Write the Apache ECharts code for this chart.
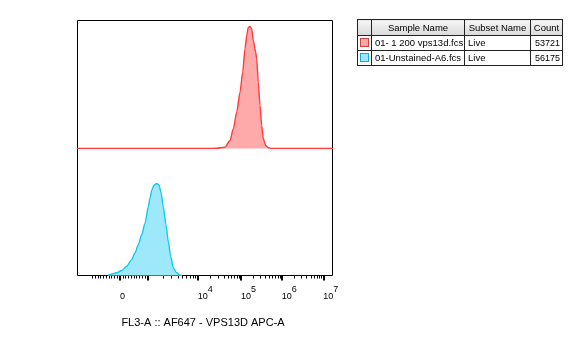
<!DOCTYPE html>
<html>
<head>
<meta charset="utf-8">
<script src="https://cdn.jsdelivr.net/npm/echarts@6/dist/echarts.min.js"></script>
<style>
  html, body { margin: 0; padding: 0; background: #fff; }
  #chart { position: absolute; left: 0; top: 0; width: 585px; height: 348px; }
  #legendTable {
    position: absolute; left: 357px; top: 19px; width: 205px;
    border-collapse: collapse; table-layout: fixed;
    font-family: "Liberation Sans", Arial, sans-serif; font-size: 9.5px; color: #000;
  }
  #legendTable td, #legendTable th {
    border: 1px solid #222; padding: 0 0 0 3px; white-space: nowrap; overflow: hidden; text-overflow: clip;
    font-weight: normal; height: 14px; line-height: 14px; box-sizing: border-box;
  }
  #legendTable th { background: linear-gradient(#f6f6f6, #d9d9d9); text-align: center; padding: 0; height: 16px; }
  #legendTable td { text-align: left; height: 15px; }
  #legendTable td.num { font-size: 9px; padding-left: 4px; }
  .sw { display: inline-block; width: 7px; height: 7px; vertical-align: middle; margin-top: -1px; }
</style>
</head>
<body>
<div id="chart"></div>
<table id="legendTable"></table>
<script>
// Histogram data in display channels (0-256) and event counts per channel bin
const redChannel = [0, 130, 139.7, 148, 153, 156.3, 159.7, 163, 165.7, 168, 169.7, 171.3, 173, 174.7, 176.3, 178.7, 179.7, 181.3, 183, 184.7, 186.3, 188.7, 191.3, 195, 256];
const redCount   = [0, 0, 3, 13, 80, 197, 363, 563, 763, 997, 1130, 1213, 1220, 1197, 1080, 963, 897, 663, 430, 230, 97, 30, 7, 0, 0];

const blueChannel = [31, 33, 39.7, 44.7, 49.7, 54.7, 58, 61.3, 64.7, 68, 71.3, 73, 74.7, 77, 79.7, 82, 84, 86.3, 89, 91.3, 93.7, 96.3, 99.7, 103, 105];
const blueCount   = [0, 10, 27, 50, 93, 160, 227, 310, 410, 527, 693, 777, 860, 910, 927, 910, 843, 693, 510, 343, 193, 77, 27, 3, 0];

// Axis tick values in fluorescence units
const majorTickValues = [0, 1e3, 1e4, 1e5, 1e6, 1e7];
const minorTickValues = [
  -1000, -900, -800, -700, -600, -500, -400, -300, -200, -100,
  100, 200, 300, 400, 500, 600, 700, 800, 900,
  2e3, 3e3, 4e3, 5e3, 6e3, 7e3, 8e3, 9e3,
  2e4, 3e4, 4e4, 5e4, 6e4, 7e4, 8e4, 9e4,
  2e5, 3e5, 4e5, 5e5, 6e5, 7e5, 8e5, 9e5,
  2e6, 3e6, 4e6, 5e6, 6e6, 7e6, 8e6, 9e6
];
const labelValues = [0, 1e4, 1e5, 1e6, 1e7];

// Legend table
const sampleNames = ['01- 1 200 vps13d.fcs', '01-Unstained-A6.fcs'];
const subsetNames = ['Live', 'Live'];
const eventCounts = [53721, 56175];

const redLine = '#ff3b3b', redFill = '#ffaaaa';
const blueLine = '#14c8f2', blueFill = '#9ee8fb';

// Biexponential display scale: linear around zero, log decades above 10^3
const zeroChannel = 43;
const linearSlope = 27.7 / 1000;
const decadeAnchors = [[1e3, 70.7], [1e4, 120.7], [1e5, 164], [1e6, 204.7], [1e7, 246.3]];
function toChannel(v) {
  if (Math.abs(v) <= 1000) return zeroChannel + linearSlope * v;
  if (v < 0) return 2 * zeroChannel - toChannel(-v);
  const lv = Math.log10(v);
  for (let i = 0; i < decadeAnchors.length - 1; i++) {
    const a = decadeAnchors[i], b = decadeAnchors[i + 1];
    if (v <= b[0]) {
      const t = (lv - Math.log10(a[0])) / (Math.log10(b[0]) - Math.log10(a[0]));
      return a[1] + t * (b[1] - a[1]);
    }
  }
  return decadeAnchors[decadeAnchors.length - 1][1];
}

const labelChannels = labelValues.map(toChannel);
function labelFor(ch) {
  let best = 0;
  labelChannels.forEach((c, i) => { if (Math.abs(c - ch) < Math.abs(labelChannels[best] - ch)) best = i; });
  const v = labelValues[best];
  if (v === 0) return '{b|0}';
  return '{b|10}{s|' + Math.round(Math.log10(v)) + '}';
}

const font = '"Liberation Sans", Arial, sans-serif';
const chart = echarts.init(document.getElementById('chart'), null, { renderer: 'canvas' });

const hiddenAxis = { show: false };
chart.setOption({
  animation: false,
  backgroundColor: '#fff',
  textStyle: { fontFamily: font },
  grid: [
    { left: 77, top: 20.5, width: 256, height: 128 },
    { left: 77, top: 148.5, width: 256, height: 127 },
    { left: 77.5, top: 20.5, width: 255, height: 255, show: true, borderColor: '#000', borderWidth: 1, backgroundColor: 'transparent' }
  ],
  xAxis: [
    Object.assign({ type: 'value', gridIndex: 0, min: 0, max: 256 }, hiddenAxis),
    {
      type: 'value', gridIndex: 1, min: 0, max: 256, position: 'bottom',
      name: 'FL3-A :: AF647 - VPS13D APC-A', nameLocation: 'middle', nameGap: 42,
      nameTextStyle: { fontSize: 11, color: '#000', fontFamily: font, padding: [0, 4, 0, 0] },
      axisLine: { show: false, onZero: false },
      splitLine: { show: false },
      axisTick: { show: true, inside: false, length: 5, lineStyle: { color: '#000', width: 2 },
                  customValues: majorTickValues.map(toChannel) },
      axisLabel: {
        show: true, margin: 13, align: 'left', color: '#000',
        customValues: labelChannels,
        formatter: labelFor,
        rich: {
          b: { fontSize: 9, lineHeight: 9, padding: [7, 0, 0, 0], color: '#000', fontFamily: font },
          s: { fontSize: 9, lineHeight: 9, padding: [0, 0, 7, 0], color: '#000', fontFamily: font }
        }
      }
    },
    {
      type: 'value', gridIndex: 1, min: 0, max: 256, position: 'bottom',
      axisLine: { show: false, onZero: false },
      splitLine: { show: false },
      axisLabel: { show: false },
      axisTick: { show: true, inside: false, length: 3, lineStyle: { color: '#000', width: 1 },
                  customValues: minorTickValues.map(toChannel) }
    },
    Object.assign({ type: 'value', gridIndex: 2, min: 0, max: 1 }, hiddenAxis)
  ],
  yAxis: [
    Object.assign({ type: 'value', gridIndex: 0, min: 0, max: 1280 }, hiddenAxis),
    Object.assign({ type: 'value', gridIndex: 1, min: 0, max: 1280 }, hiddenAxis),
    Object.assign({ type: 'value', gridIndex: 2, min: 0, max: 1 }, hiddenAxis)
  ],
  series: [
    {
      name: sampleNames[0], type: 'line', xAxisIndex: 0, yAxisIndex: 0,
      data: redChannel.map((c, i) => [c, redCount[i]]),
      showSymbol: false, symbol: 'none', smooth: 0.25, smoothMonotone: 'x',
      lineStyle: { color: redLine, width: 1.4 },
      areaStyle: { color: redFill, opacity: 1, origin: 'start' }
    },
    {
      name: sampleNames[1], type: 'line', xAxisIndex: 1, yAxisIndex: 1,
      data: blueChannel.map((c, i) => [c, blueCount[i]]),
      showSymbol: false, symbol: 'none', smooth: 0.25, smoothMonotone: 'x',
      lineStyle: { color: blueLine, width: 1.4 },
      areaStyle: { color: blueFill, opacity: 1, origin: 'start' }
    }
  ]
});

// Sample legend table
const swatches = [[redFill, '#d84040'], [blueFill, '#1aa8d8']];
const table = document.getElementById('legendTable');
let html = '<colgroup><col style="width:14px"><col style="width:93px"><col style="width:66px"><col style="width:32px"></colgroup>';
html += '<tr><th></th><th>Sample Name</th><th>Subset Name</th><th>Count</th></tr>';
sampleNames.forEach((name, i) => {
  html += '<tr><td style="text-align:center;padding:0"><span class="sw" style="background:' + swatches[i][0] +
          ';border:1px solid ' + swatches[i][1] + '"></span></td><td>' + name + '</td><td>' + subsetNames[i] +
          '</td><td class="num">' + eventCounts[i] + '</td></tr>';
});
table.innerHTML = html;
</script>
</body>
</html>
